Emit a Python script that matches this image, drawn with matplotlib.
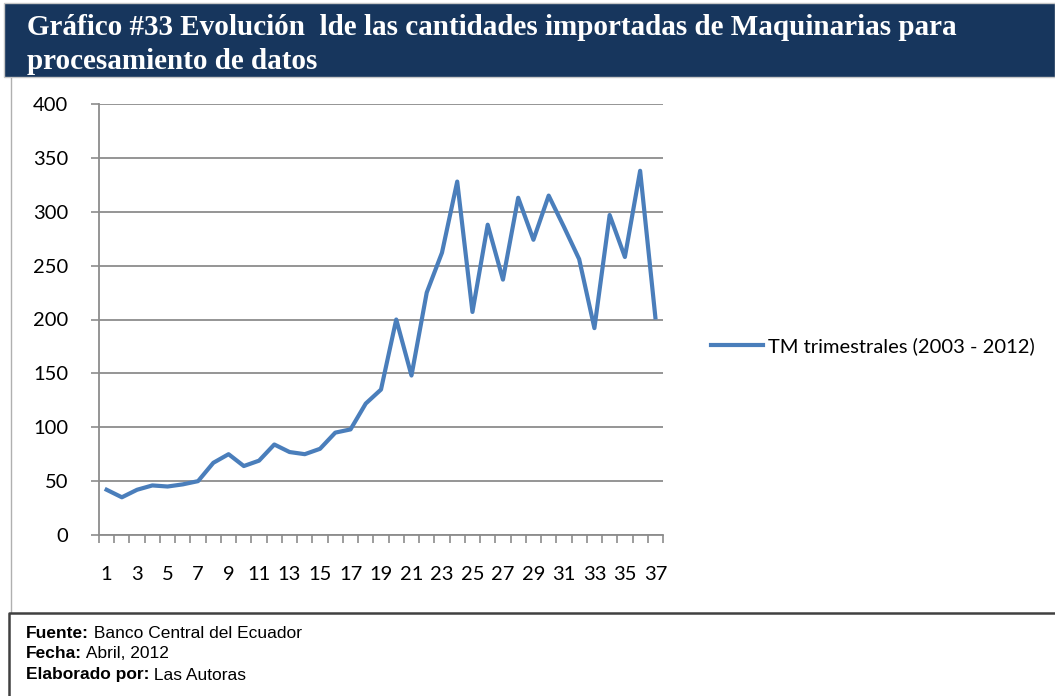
import matplotlib.pyplot as plt
from matplotlib.patches import Rectangle
from matplotlib.lines import Line2D
import numpy as np

# datos (TM trimestrales 2003 - 2012)
trimestres = list(range(1, 38))
toneladas = [42, 35, 42, 46, 45, 47, 50, 67, 75, 64,
             69, 84, 77, 75, 80, 95, 98, 122, 135, 200,
             148, 225, 262, 328, 207, 288, 237, 313, 274, 315,
             286, 256, 192, 297, 258, 338, 202]
etiquetas_x = [str(t) if t % 2 == 1 else "" for t in trimestres]
ticks_y = [0, 50, 100, 150, 200, 250, 300, 350, 400]

titulo = "Gráfico #33 Evolución  lde las cantidades importadas de Maquinarias para\nprocesamiento de datos"
serie = "TM trimestrales (2003 - 2012)"
notas = [("Fuente:", " Banco Central del Ecuador"),
         ("Fecha:", " Abril, 2012"),
         ("Elaborado por:", " Las Autoras")]

W, H = 1055, 696
fig = plt.figure(figsize=(W / 100, H / 100), dpi=100)
fig.patch.set_facecolor("white")

# barra del titulo
fig.patches.append(Rectangle((4 / W, 1 - 77 / H), (W - 4) / W, 74 / H,
                             transform=fig.transFigure, facecolor="#17365D",
                             edgecolor="#c8c8c8", lw=1, zorder=0))
fig.text(27 / W, 1 - 14 / H, titulo, color="white", fontsize=21,
         fontweight="bold", family="Liberation Serif", va="top", ha="left",
         linespacing=1.35)

# borde del area del grafico
fig.lines.append(Line2D([11 / W, 11 / W], [1 - 78 / H, 1 - 612 / H],
                        transform=fig.transFigure, color="#b0b0b0", lw=1))

# cuadro de notas
fig.lines.append(Line2D([9 / W, 9 / W, 1], [0, 1 - 613 / H, 1 - 613 / H],
                        transform=fig.transFigure, color="#404040", lw=1.8))
for i, (b, r) in enumerate(notas):
    y = 1 - (633 + i * 21) / H
    t = fig.text(26 / W, y, b, fontsize=12.5, fontweight="bold",
                 family="Liberation Sans", va="center", ha="left")
    fig.canvas.draw()
    bb = t.get_window_extent()
    fig.text(bb.x1 / W, y, r, fontsize=12.5, family="Liberation Sans",
             va="center", ha="left")

ax = fig.add_axes([99 / W, 1 - 535 / H, 564 / W, 431 / H])
x = np.arange(len(trimestres))
ax.plot(x, toneladas, color="#4A7EBB", lw=3, solid_joinstyle="round",
        label=serie)
ax.set_xlim(-0.5, len(trimestres) - 0.5)
ax.set_ylim(0, 400)
ax.set_yticks(ticks_y)
ax.set_yticklabels([str(v) for v in ticks_y], fontsize=14.5, family="Lato")
ax.yaxis.grid(True, color="#8c8c8c", lw=1.3)
ax.set_axisbelow(True)
ax.set_xticks(x)
ax.set_xticklabels(etiquetas_x, fontsize=14.5, family="Lato")
ax.set_xticks(np.arange(len(trimestres) + 1) - 0.5, minor=True)
ax.tick_params(axis="x", which="major", length=0, pad=22)
ax.tick_params(axis="x", which="minor", length=6, color="#8c8c8c",
               width=1.2)
ax.tick_params(axis="y", length=6, color="#8c8c8c", width=1.2, pad=16)
for lado in ["top", "right"]:
    ax.spines[lado].set_visible(False)
ax.spines["left"].set_color("#8c8c8c")
ax.spines["left"].set_linewidth(1.3)
ax.spines["bottom"].set_color("#8c8c8c")
ax.spines["bottom"].set_linewidth(1.3)

ax.legend(loc="center left", bbox_to_anchor=(693 / W, 1 - 346 / H),
          bbox_transform=fig.transFigure, frameon=False, handlelength=2.6,
          handletextpad=0.2, prop={"family": "Lato", "size": 14.5})

fig.savefig("out.png", dpi=100)
